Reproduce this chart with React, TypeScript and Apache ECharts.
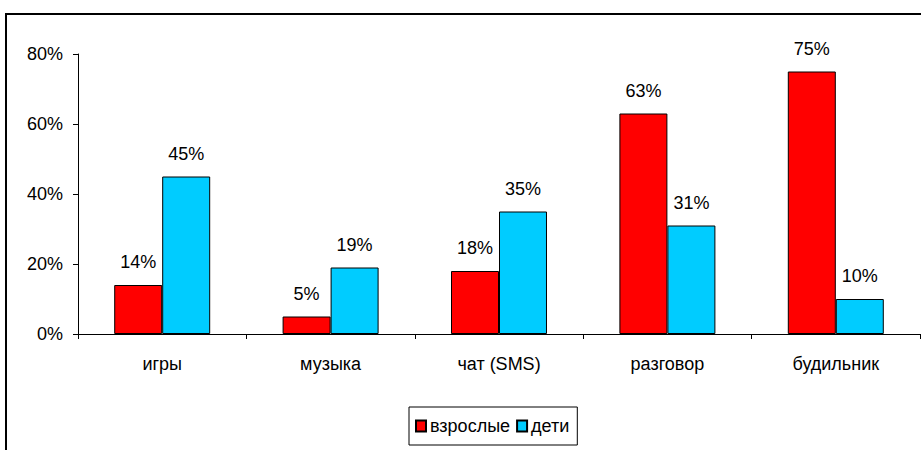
import React, { useEffect, useRef } from "react";
import * as echarts from "echarts";

const categories = ["игры", "музыка", "чат (SMS)", "разговор", "будильник"];
const adults = [14, 5, 18, 63, 75];
const children = [45, 19, 35, 31, 10];
const seriesNames = ["взрослые", "дети"];

export default function App() {
  const ref = useRef<HTMLDivElement>(null);
  useEffect(() => {
    if (!ref.current) return;
    const chart = echarts.init(ref.current, null, { renderer: "svg" });
    const font = "Liberation Sans, Arial, sans-serif";
    const label = {
      show: true,
      position: "top" as const,
      distance: 14,
      formatter: "{c}%",
      color: "#000",
      fontSize: 18,
      fontFamily: font,
    };
    chart.setOption({
      animation: false,
      backgroundColor: "#fff",
      textStyle: { fontFamily: font },
      graphic: [
        {
          type: "rect",
          shape: { x: 6, y: 14, width: 1000, height: 1000 },
          style: { fill: "none", stroke: "#000", lineWidth: 2 },
          silent: true,
        },
      ],
      grid: { left: 78, right: 1, top: 54, bottom: 116 },
      legend: {
        left: 409,
        top: 407,
        padding: [10, 8, 10, 6],
        itemGap: 6,
        itemWidth: 10,
        itemHeight: 11,
        borderColor: "#000",
        borderWidth: 1,
        icon: "rect",
        textStyle: { fontSize: 18, color: "#000", fontFamily: font, padding: [0, 0, 0, -1] },
        data: seriesNames,
      },
      xAxis: {
        type: "category",
        data: categories,
        axisLine: { lineStyle: { color: "#000", width: 1 } },
        axisTick: { show: true, length: 5, lineStyle: { color: "#000" } },
        axisLabel: { color: "#000", fontSize: 18, margin: 21, fontFamily: font },
      },
      yAxis: {
        type: "value",
        min: 0,
        max: 80,
        interval: 20,
        splitLine: { show: false },
        axisLine: { show: true, lineStyle: { color: "#000", width: 1 } },
        axisTick: { show: true, length: 5, lineStyle: { color: "#000" } },
        axisLabel: { color: "#000", fontSize: 18, formatter: "{value}%", margin: 15, fontFamily: font },
      },
      series: [
        {
          name: seriesNames[0],
          type: "bar",
          data: adults,
          barGap: "0%",
          barCategoryGap: "43%",
          itemStyle: { color: "#ff0000", borderColor: "#000", borderWidth: 1 },
          label,
        },
        {
          name: seriesNames[1],
          type: "bar",
          data: children,
          itemStyle: { color: "#00ccff", borderColor: "#000", borderWidth: 1 },
          label,
        },
      ],
    });
    return () => chart.dispose();
  }, []);
  return <div ref={ref} style={{ width: 921, height: 450, position: "absolute", left: 0, top: 0 }} />;
}
